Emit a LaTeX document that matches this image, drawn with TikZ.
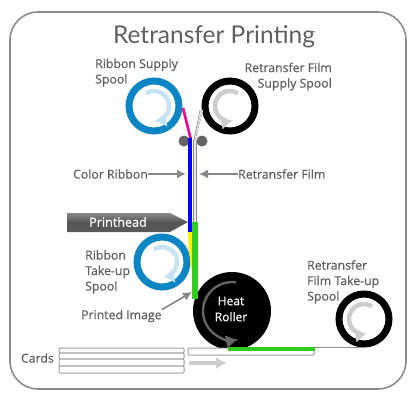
\documentclass[tikz,border=0pt]{standalone}
\usepackage{fontspec}
\setmainfont[FakeBold=0.6]{Open Sans}
\newfontfamily\titlefont{Lato}
\usepackage{tikz}
\usetikzlibrary{arrows.meta}
\usetikzlibrary{calc}
\usetikzlibrary{positioning}
\definecolor{RBlue}{RGB}{12,133,196}
\definecolor{RPale}{RGB}{197,227,243}
\definecolor{RText}{RGB}{95,95,95}
\definecolor{RFrame}{RGB}{140,140,140}
\definecolor{RArrow}{RGB}{135,135,135}
\definecolor{RGuide}{RGB}{100,100,100}
\definecolor{RFilm}{RGB}{205,205,205}
\definecolor{RGreen}{RGB}{50,205,30}
\tikzset{
	lab/.style={text=RText, font=\fontsize{12.3}{15.5}\selectfont, inner sep=0pt, align=left},
	pointer/.style={-{Latex[length=9pt,width=9pt]}, line width=1.6pt, draw=RArrow},
	bluespool/.style={circle, draw=RBlue, line width=7pt, fill=white, minimum size=50pt, inner sep=0pt},
	blackspool/.style={circle, draw=black, line width=7pt, fill=white, minimum size=50pt, inner sep=0pt},
	guide/.style={circle, fill=RGuide, minimum size=11pt, inner sep=0pt},
	cardbox/.style={draw=RFrame!85, line width=1pt, rounded corners=1pt, fill=white},
	turnblue/.style={-{Latex[length=11pt,width=15pt]}, line width=4.5pt, draw=RPale},
	turngray/.style={-{Latex[length=11pt,width=15pt]}, line width=4.5pt, draw=RFilm}
}
\begin{document}
\begin{tikzpicture}[x=1pt, y=-1pt]
		\useasboundingbox (0,0) rectangle (417,402);
		\draw[RFrame, line width=1.6pt, rounded corners=28pt] (10,12) rectangle (406,389);
		\node[text=RText, font=\titlefont\fontsize{24.5}{26}\selectfont, inner sep=0pt] (title) at (214,37) {Retransfer Printing};
		% tapes
		\coordinate (nip) at (191,140);
		\coordinate (filmtop) at (195,140);
		\node[bluespool] (supply) at (154,106) {};
		\node[blackspool] (filmsupply) at (230,106) {};
		\node[bluespool] (takeup) at (162,262) {};
		\node[circle, inner sep=0pt, minimum size=78pt, fill=black] (roller) at (232,311) {};
		\node[blackspool] (filmtakeup) at (364,319) {};
		\draw[magenta, line width=2.6pt] (183,108) -- (nip);
		\draw[RFilm, line width=2.4pt, dash pattern=on 3pt off 1pt] (filmtop) -- (202,110);
		\draw[RGuide!70, line width=0.6pt] (194,140) -- (200,110);
		\node[guide] (guideleft) at (184,141) {};
		\node[guide] (guideright) at (202,141) {};
		\draw[RFrame, line width=4.5pt] (filmtop) -- (195,224);
		\draw[RFilm!50, line width=2.6pt] (filmtop) -- (195,224);
		\draw[blue, line width=4pt] (190,138) -- (190,233);
		\draw[yellow, line width=4pt] (190,232) -- (191,250) -- (193,268);
		\draw[RGreen, line width=5.5pt] (195,222) -- (195,299);
		% cards
		\foreach \top/\bot in {348/353, 353/359, 359/366, 366/373}
			\draw[cardbox] (59,\top) rectangle (184,\bot);
		\node[lab, anchor=east] (cards) at (54,358) {Cards};
		\draw[RFrame, line width=1.4pt] (314,347.5) -- (filmtakeup.south);
		\draw[cardbox] (188,348) rectangle (314,355);
		\draw[RGreen, line width=4.5pt] (228,349) -- (315,349);
		\draw[RFilm, line width=4pt, -{Latex[length=11pt,width=12pt]}] (189,363) -- (227,363);
		% turn arrows
		\draw[turnblue] ([shift={(154,106)}]-123:15) arc[start angle=-123, end angle=84, radius=15];
		\draw[turnblue] ([shift={(162,262)}]-123:15) arc[start angle=-123, end angle=84, radius=15];
		\draw[turngray] ([shift={(230,106)}]-58:15) arc[start angle=-58, end angle=-279, radius=15];
		\draw[turngray] ([shift={(364,319)}]-58:15) arc[start angle=-58, end angle=-279, radius=15];
		\draw[RGuide, line width=2.4pt, -{Latex[length=12pt,width=14pt]}] ([shift={(232,311)}]-82:29) arc[start angle=-82, end angle=-282, radius=29];
		% printhead
		\path[top color=RGuide!75, bottom color=RGuide!90!black, middle color=RGuide!110] (67,213) -- (170,213) -- (188,222) -- (170,232) -- (67,232) -- cycle;
		\node[text=white, font=\fontsize{12.6}{14}\selectfont, inner sep=0pt] (printhead) at (118,222) {Printhead};
		% heat roller label
		\node[text=white, font=\fontsize{12}{16}\selectfont, align=center, inner sep=0pt] (rollerlab) at (231,309) {Heat\\Roller};
		% labels
		\node[lab, anchor=north west] (supplylab) at (95,58.5) {Ribbon Supply\\Spool};
		\node[lab, align=right, anchor=north east] (filmlab) at (332,62.5) {Retransfer Film\\Supply Spool};
		\node[lab, anchor=east] (ribbonlab) at (148,174) {Color Ribbon};
		\node[lab, anchor=west] (retranslab) at (238,174) {Retransfer Film};
		\node[lab, anchor=north west] (takeuplab) at (85,250) {Ribbon\\Take-up\\Spool};
		\node[lab, anchor=west] (imagelab) at (81,316) {Printed Image};
		\node[lab, anchor=north west] (filmtakelab) at (307,260) {Retransfer\\Film Take-up\\Spool};
		% pointers
		\coordinate (ribbontip) at (186,174);
		\coordinate (retranstip) at (199,174);
		\coordinate (imagetip) at (192,292);
		\draw[pointer] (ribbonlab) -- (ribbontip);
		\draw[pointer] (retranslab) -- (retranstip);
		\draw[pointer] (imagelab.north east) -- (imagetip);
	\end{tikzpicture}
\end{document}
